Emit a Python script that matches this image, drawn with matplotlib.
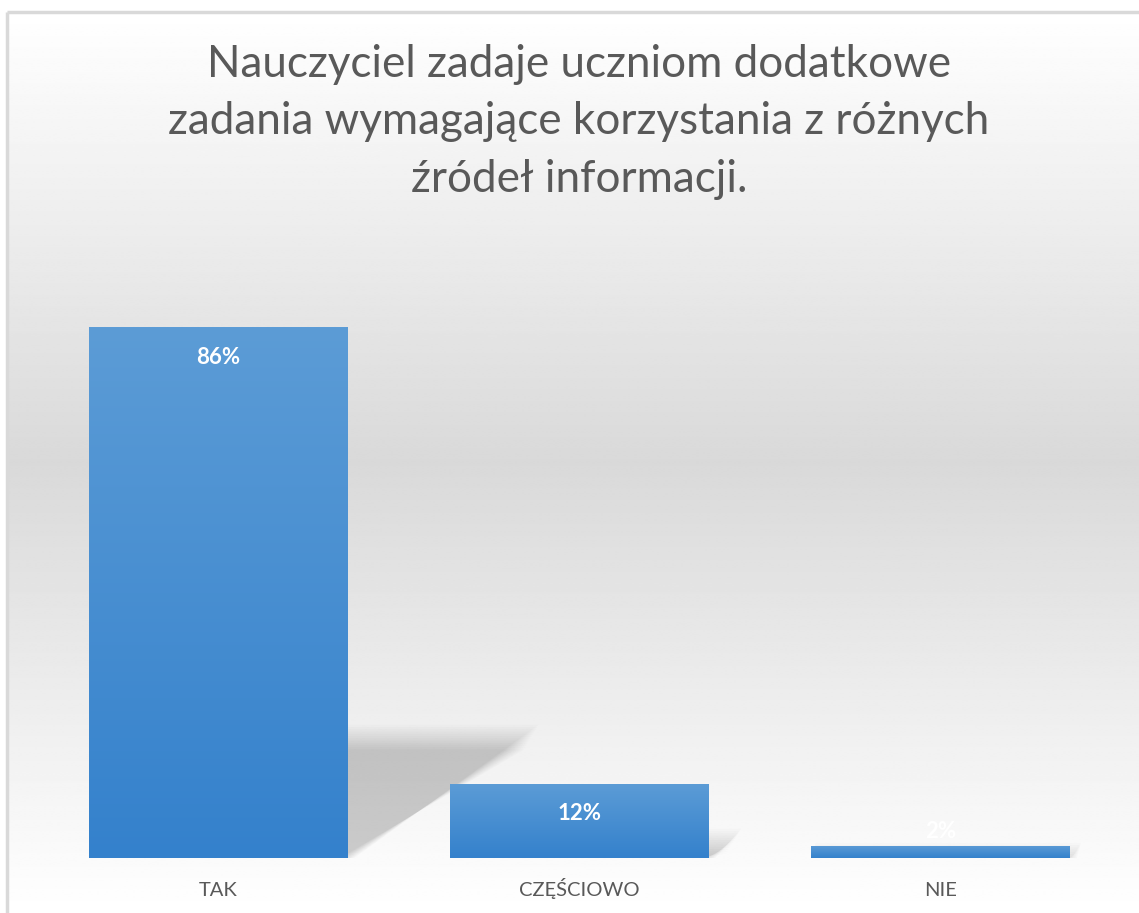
import matplotlib
matplotlib.use('Agg')
import matplotlib.pyplot as plt
import numpy as np
from matplotlib.patches import Polygon
from matplotlib.colors import LinearSegmentedColormap

categories = ['TAK', 'CZĘŚCIOWO', 'NIE']
values = [86, 12, 2]
value_labels = ['86%', '12%', '2%']
title = 'Nauczyciel zadaje uczniom dodatkowe\nzadania wymagające korzystania z różnych\nźródeł informacji.'

plt.rcParams['font.family'] = ['Lato', 'DejaVu Sans']

W, H = 1139, 913
fig = plt.figure(figsize=(W / 100, H / 100), dpi=100)

# chart-area background: white -> grey -> white, with a light border
bg = fig.add_axes([0, 0, 1, 1])
bg.set_xlim(0, W)
bg.set_ylim(H, 0)
bg.axis('off')
top_px = 12
ys = np.linspace(0, 1, 400)
shade = 1 - (1 - 217 / 255.0) * (1 - np.abs(ys - 0.5) * 2)
bg.imshow(np.repeat(shade[:, None], 2, axis=1), cmap='gray', vmin=0, vmax=1,
          extent=[7, W, H, top_px], aspect='auto', interpolation='bilinear')
bg.plot([7, W], [top_px, top_px], color='#d9d9d9', lw=2.5, solid_capstyle='butt')
bg.plot([7, 7], [top_px, H], color='#d9d9d9', lw=2.5, solid_capstyle='butt')

fig.text(579 / W, 1 - 122 / H, title, ha='center', va='center', fontsize=31.7,
         color='#595959', linespacing=1.5)

ax = fig.add_axes([37.5 / W, (H - 858) / H, (1121 - 37.5) / W, 617 / H])
ax.patch.set_alpha(0)
ax.set_xlim(-0.5, len(categories) - 0.5)
ax.set_ylim(0, 100)
for s in ax.spines.values():
    s.set_visible(False)
ax.set_yticks([])

x = np.arange(len(categories))
width = 0.715

# perspective shadows, soft edges from stacked faint polygons
n_layers = 12
for xi, v in zip(x, values):
    x0, x1 = xi - width / 2, xi + width / 2
    dx, dy = 0.00594 * v, 0.228 * v
    for k in range(n_layers):
        t = k / (n_layers - 1) - 0.5
        g = t * 0.04
        gy = t * 4.0
        poly = Polygon([(x0, 0), (x1 + g, 0), (x1 + dx + g, dy + gy), (x0 + dx, dy + gy)],
                       closed=True, facecolor='black', edgecolor='none', alpha=0.017, zorder=1)
        ax.add_patch(poly)

bars = ax.bar(x, values, width=width, color='none', zorder=2)
cmap = LinearSegmentedColormap.from_list('blue', ['#3481cc', '#5c9cd6'])
grad = np.linspace(0, 1, 256)[:, None]
for b in bars:
    bx, by = b.get_x(), b.get_y()
    im = ax.imshow(grad, cmap=cmap, origin='lower', aspect='auto',
                   extent=[bx, bx + b.get_width(), by, by + b.get_height()], zorder=2)
    im.set_clip_path(b)
ax.set_xlim(-0.5, len(categories) - 0.5)
ax.set_ylim(0, 100)

for xi, v, lab in zip(x, values, value_labels):
    off = -21.6 if v >= 5 else 10
    ax.annotate(lab, (xi, v), xytext=(0, off), textcoords='offset points',
                ha='center', va='center', color='white', fontsize=16,
                fontweight='bold', zorder=3)

ax.set_xticks(x)
ax.set_xticklabels(categories, fontsize=14.5, color='#595959', va='baseline')
ax.tick_params(axis='x', length=0, pad=27.4)

fig.savefig('out.png', dpi=100)
